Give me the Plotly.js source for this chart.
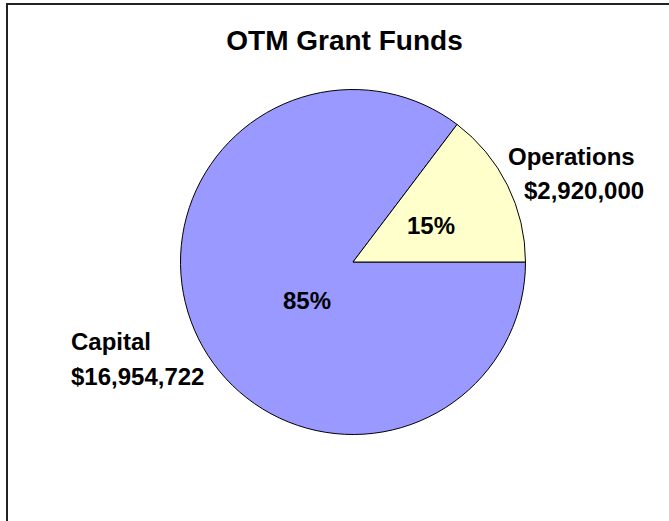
<!DOCTYPE html>
<html>
<head>
<meta charset="utf-8">
<script src="https://cdn.plot.ly/plotly-3.0.1.min.js"></script>
<style>
  html, body { margin: 0; padding: 0; background: #ffffff; }
  #chart { width: 669px; height: 521px; }
  #frame { position: absolute; left: 6px; top: 3px; width: 700px; height: 560px;
           border-left: 2px solid #222; border-top: 2px solid #222; pointer-events: none; }
</style>
</head>
<body>
<div id="chart"></div>
<div id="frame"></div>
<script>
const categories = ["Capital", "Operations"];
const amounts = [16954722, 2920000];
const amountLabels = ["$16,954,722", "$2,920,000"];
const colors = ["#9999FF", "#FFFFCC"];

const font = "Liberation Sans, Arial, Helvetica, sans-serif";
const total = amounts.reduce((a, b) => a + b, 0);
const pctText = amounts.map(v => Math.round(v / total * 100) + "%");

const trace = {
  type: "pie",
  labels: categories,
  values: amounts,
  sort: false,
  direction: "clockwise",
  rotation: 90,
  marker: { colors: colors, line: { color: "#000000", width: 1 } },
  textinfo: "none",
  domain: { x: [0.2698, 0.7855], y: [0.166, 0.8282] },
  showlegend: false,
  hoverinfo: "label+value+percent"
};

const annotations = [
  { text: "<b>" + categories[1] + "</b>", x: 571 / 669, y: 1 - 157 / 521 },
  { text: "<b>" + amountLabels[1] + "</b>", x: 584 / 669, y: 1 - 190 / 521 },
  { text: "<b>" + categories[0] + "</b>", x: 69 / 669, y: 1 - 341 / 521, xanchor: "left" },
  { text: "<b>" + amountLabels[0] + "</b>", x: 69 / 669, y: 1 - 376 / 521, xanchor: "left" },
  { text: "<b>" + pctText[1] + "</b>", x: 431 / 669, y: 1 - 225 / 521 },
  { text: "<b>" + pctText[0] + "</b>", x: 307 / 669, y: 1 - 300 / 521 }
].map(a => Object.assign({
  xref: "paper", yref: "paper", showarrow: false, xanchor: "center", yanchor: "middle",
  font: { family: font, size: 24, color: "#000000" }
}, a));

const layout = {
  width: 669,
  height: 521,
  margin: { l: 0, r: 0, t: 0, b: 0 },
  paper_bgcolor: "#ffffff",
  title: {
    text: "<b>OTM Grant Funds</b>",
    font: { family: font, size: 28, color: "#000000" },
    x: 344.5 / 669, xanchor: "center",
    y: 1 - 40 / 521, yanchor: "middle",
    xref: "paper", yref: "container"
  },
  annotations: annotations
};

Plotly.newPlot("chart", [trace], layout, { displayModeBar: false, staticPlot: true });
</script>
</body>
</html>
